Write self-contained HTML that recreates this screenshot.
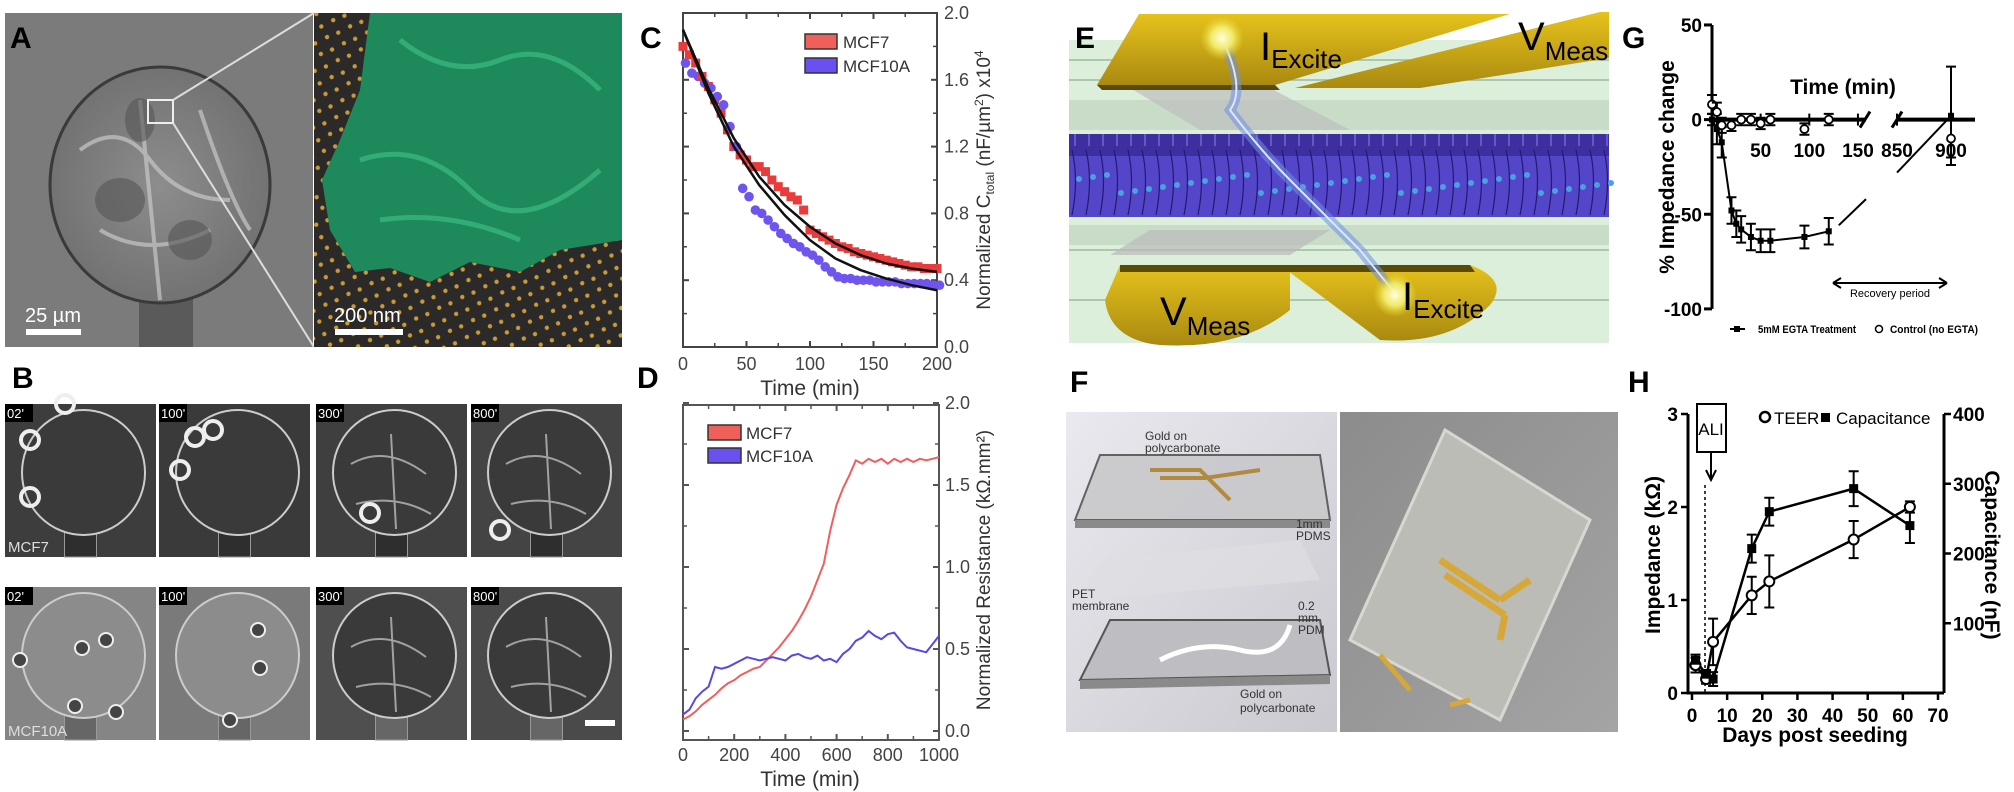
<!DOCTYPE html>
<html><head><meta charset="utf-8">
<style>
html,body{margin:0;padding:0;background:#fff;}
#root{position:relative;width:2014px;height:792px;overflow:hidden;font-family:"Liberation Sans",sans-serif;}
svg text{font-family:"Liberation Sans",sans-serif;}
</style></head>
<body>
<div id="root">
<svg id="svg" width="2014" height="792" viewBox="0 0 2014 792" xmlns="http://www.w3.org/2000/svg">
<defs>
<pattern id="dots" width="18" height="18" patternUnits="userSpaceOnUse" patternTransform="rotate(20)">
<rect width="18" height="18" fill="#2b2a28"/>
<circle cx="5" cy="5" r="2.2" fill="#c89a3a"/><circle cx="14" cy="13" r="2.2" fill="#c89a3a"/>
</pattern>
<radialGradient id="cellg" cx="0.5" cy="0.5" r="0.6"><stop offset="0" stop-color="#8d8d8d"/><stop offset="1" stop-color="#6d6d6d"/></radialGradient>
<linearGradient id="gold" x1="0" y1="0" x2="0" y2="1"><stop offset="0" stop-color="#e6c21c"/><stop offset="1" stop-color="#a98a10"/></linearGradient>
<linearGradient id="fbg" x1="0" y1="0" x2="1" y2="1"><stop offset="0" stop-color="#e9e9ef"/><stop offset="1" stop-color="#c9c9cf"/></linearGradient>
<linearGradient id="pbg" x1="0" y1="0" x2="1" y2="1"><stop offset="0" stop-color="#8c8c8c"/><stop offset="1" stop-color="#a4a4a4"/></linearGradient>
<radialGradient id="glow"><stop offset="0" stop-color="#ffffe0"/><stop offset="0.5" stop-color="#f4f070" stop-opacity="0.9"/><stop offset="1" stop-color="#e8d830" stop-opacity="0"/></radialGradient>
</defs>

<!-- Panel A -->
<g>
<rect x="5" y="13" width="308" height="334" fill="#7b7b7b"/>
<rect x="139" y="290" width="54" height="57" fill="#5a5a5a"/>
<ellipse cx="160" cy="185" rx="110" ry="118" fill="url(#cellg)" stroke="#3a3a3a" stroke-width="3"/>
<path d="M80 150 Q120 120 150 160 T230 200 M100 230 Q150 260 210 230 M140 100 L160 300 M200 110 Q230 200 250 230" stroke="#c8c8c8" stroke-width="4" fill="none" opacity="0.7"/>
<ellipse cx="120" cy="200" rx="25" ry="22" fill="#555" opacity="0.6"/><ellipse cx="190" cy="240" rx="22" ry="20" fill="#555" opacity="0.6"/><ellipse cx="140" cy="120" rx="15" ry="22" fill="#555" opacity="0.6"/>
<rect x="148" y="100" width="25" height="23" fill="none" stroke="#eee" stroke-width="2"/>
<line x1="173" y1="100" x2="314" y2="13" stroke="#ddd" stroke-width="2"/>
<line x1="173" y1="123" x2="314" y2="347" stroke="#ddd" stroke-width="2"/>
<text x="25" y="322" font-size="20" fill="#fff">25 µm</text>
<rect x="26" y="329" width="55" height="6" fill="#fff"/>
<rect x="314" y="13" width="308" height="334" fill="url(#dots)"/>
<path d="M370 13 L622 13 L622 240 L560 250 L520 272 L470 262 L430 282 L390 268 L355 272 L330 230 L322 180 L340 140 L360 90 Z" fill="#1e8a5c"/>
<path d="M400 40 Q450 80 500 60 T600 90 M360 160 Q420 140 470 190 T600 170 M380 220 Q450 210 520 240" stroke="#3fc48a" stroke-width="5" fill="none" opacity="0.6"/>
<text x="334" y="322" font-size="20" fill="#fff">200 nm</text>
<rect x="335" y="329" width="68" height="6" fill="#fff"/>
<text x="10" y="48" font-size="30" font-weight="bold">A</text>
</g>

<!-- Panel B -->
<g id="panelB">
<text x="12" y="388" font-size="30" font-weight="bold">B</text>
</g>

<!-- Panel C -->
<g id="panelC">
<text x="640" y="48" font-size="30" font-weight="bold">C</text>
</g>
<!-- Panel D -->
<g id="panelD">
<text x="637" y="388" font-size="30" font-weight="bold">D</text>
</g>

<!-- Panel E -->
<g>
<rect x="1069" y="40" width="540" height="303" fill="#dcefda"/>
<path d="M1069 60 L1609 60 M1069 80 L1609 80 M1069 235 L1609 235 M1069 250 L1609 250 M1069 300 L1609 300" stroke="#9fb89f" stroke-width="1.5"/>
<rect x="1069" y="100" width="540" height="30" fill="#c8dcc8"/>
<rect x="1069" y="225" width="540" height="20" fill="#c8dcc8"/>
<polygon points="1130,88 1270,88 1350,130 1200,130" fill="#bdbdbd" opacity="0.7"/>
<rect x="1069" y="134" width="540" height="83" fill="#5446c8"/>
<rect x="1069" y="134" width="540" height="22" fill="#3d2fa0"/>
<g id="cellsE"></g>
<polygon points="1110,255 1290,255 1330,230 1150,230" fill="#b9b9b9" opacity="0.7"/>
<polygon points="1139,14 1510,14 1275,85 1097,85" fill="url(#gold)"/>
<polygon points="1097,85 1275,85 1280,90 1102,90" fill="#5a4a08"/>
<polygon points="1295,88 1600,12 1609,12 1609,58 1420,88" fill="url(#gold)"/>
<path d="M1120 265 L1290 265 L1290 310 Q1240 350 1160 345 Q1110 340 1105 300 Z" fill="url(#gold)"/>
<path d="M1280 265 L1470 265 Q1510 280 1490 305 Q1450 345 1380 340 Z" fill="url(#gold)"/>
<path d="M1120 265 L1290 265 L1290 272 L1120 272 Z M1280 265 L1470 265 L1475 272 L1285 272 Z" fill="#5a4a08"/>
<path d="M1225 45 Q1245 90 1230 110 Q1260 150 1290 180 Q1330 220 1360 250 Q1380 275 1395 293" stroke="#6f8fe6" stroke-width="10" fill="none" opacity="0.55"/>
<path d="M1225 45 Q1245 90 1230 110 Q1260 150 1290 180 Q1330 220 1360 250 Q1380 275 1395 293" stroke="#dde6ff" stroke-width="2" fill="none"/>
<circle cx="1222" cy="38" r="22" fill="url(#glow)"/>
<circle cx="1395" cy="295" r="22" fill="url(#glow)"/>
<text x="1260" y="60" font-size="40">I<tspan font-size="26" dy="8">Excite</tspan></text>
<text x="1518" y="50" font-size="40">V<tspan font-size="26" dy="10">Meas</tspan></text>
<text x="1160" y="325" font-size="40">V<tspan font-size="26" dy="10">Meas</tspan></text>
<text x="1402" y="310" font-size="40">I<tspan font-size="26" dy="8">Excite</tspan></text>
<text x="1075" y="48" font-size="30" font-weight="bold">E</text>
</g>

<!-- Panel F -->
<g>
<text x="1070" y="392" font-size="30" font-weight="bold">F</text>
<rect x="1066" y="412" width="271" height="320" fill="url(#fbg)"/>
<polygon points="1100,455 1320,455 1330,520 1075,520" fill="#c9c9cc" stroke="#555" stroke-width="2" opacity="0.9"/>
<polygon points="1075,520 1330,520 1330,528 1075,528" fill="#8a8a8a"/>
<path d="M1150 470 L1200 470 L1230 500 M1160 478 L1205 478 L1260 470" stroke="#b08a40" stroke-width="4" fill="none"/>
<polygon points="1100,560 1300,540 1320,580 1080,600" fill="#dedee3" opacity="0.7"/>
<polygon points="1110,620 1320,620 1330,675 1080,680" fill="#bdbdc2" stroke="#555" stroke-width="2"/>
<polygon points="1080,680 1330,675 1330,684 1080,689" fill="#8a8a8a"/>
<path d="M1160 660 Q1200 640 1240 650 T1290 625" stroke="#fff" stroke-width="5" fill="none"/>
<text x="1145" y="440" font-size="12" fill="#333">Gold on</text><text x="1145" y="452" font-size="12" fill="#333">polycarbonate</text>
<text x="1296" y="528" font-size="12" fill="#333">1mm</text><text x="1296" y="540" font-size="12" fill="#333">PDMS</text>
<text x="1072" y="598" font-size="12" fill="#333">PET</text><text x="1072" y="610" font-size="12" fill="#333">membrane</text>
<text x="1298" y="610" font-size="12" fill="#333">0.2</text><text x="1298" y="622" font-size="12" fill="#333">mm</text><text x="1298" y="634" font-size="12" fill="#333">PDM</text>
<text x="1240" y="698" font-size="12" fill="#333">Gold on</text><text x="1240" y="712" font-size="12" fill="#333">polycarbonate</text>
<rect x="1340" y="412" width="278" height="320" fill="url(#pbg)"/>
<polygon points="1445,430 1590,520 1500,720 1350,640" fill="#bcbcb6" stroke="#d8d8d2" stroke-width="3"/>
<path d="M1440 560 L1500 600 M1445 575 L1505 615 M1500 600 L1530 580 M1505 615 L1500 640" stroke="#d6a83a" stroke-width="7" fill="none"/>
<path d="M1380 655 L1410 690 M1450 705 L1470 700" stroke="#d6a83a" stroke-width="5"/>
</g>

<!-- Panel G -->
<g id="panelG">
<text x="1622" y="48" font-size="30" font-weight="bold">G</text>
</g>
<!-- Panel H -->
<g id="panelH">
<text x="1628" y="392" font-size="30" font-weight="bold">H</text>
</g>
</svg>
</div>
<script>
const NS='http://www.w3.org/2000/svg';
function el(tag, attrs, parent){const e=document.createElementNS(NS,tag);for(const k in attrs)e.setAttribute(k,attrs[k]);parent.appendChild(e);return e;}
function tx(str, attrs, parent){const e=el('text',attrs,parent);e.textContent=str;return e;}

/* ---------- Panel B (images) ---------- */
const bTimes=["02'","100'","300'","800'"];
const bRows=["MCF7","MCF10A"];
(function(){
  const g=document.getElementById('panelB');
  const colX=[5,159,316,471], rowY=[404,587], W=151, H=153;
  const bg=[["#3d3d3d","#3a3a3a","#3f3f3f","#444"],["#858585","#7a7a7a","#4f4f4f","#4a4a4a"]];
  for(let r=0;r<2;r++)for(let c=0;c<4;c++){
    const x=colX[c],y=rowY[r];
    const img=el('rect',{x:x,y:y,width:W,height:H,fill:bg[r][c]},g);
    
    
    el('rect',{x:x+W/2-16,y:y+H-25,width:32,height:25,fill:r?'#666':'#2e2e2e',stroke:'#999','stroke-width':1},g);
    el('ellipse',{cx:x+W/2+3,cy:y+H/2-8,rx:W/2-14,ry:H/2-14,fill:r&&c<2?'#8c8c8c':'#3a3a3a',stroke:'#ccc','stroke-width':2},g);
    if(c>=2){el('path',{d:`M${x+35} ${y+60} Q${x+70} ${y+40} ${x+110} ${y+70} M${x+40} ${y+100} Q${x+80} ${y+90} ${x+115} ${y+110} M${x+75} ${y+30} L${x+80} ${y+125}`,stroke:'#bbb','stroke-width':2,fill:'none',opacity:0.8},g);}
    el('rect',{x:x,y:y,width:28,height:18,fill:'#000'},g);
    const lb=tx(bTimes[c],{x:x+2,y:y+14,'font-size':13,fill:'#fff'},g);
    
    
  }
  const rings=[[30,440],[30,497],[65,404],[195,437],[213,430],[180,470],[370,513],[500,530]];
  rings.forEach(p=>{el('circle',{cx:p[0],cy:p[1],r:9,fill:'none',stroke:'#eee','stroke-width':4},g);});
  const balls=[[20,660],[82,648],[106,640],[75,706],[116,712],[258,630],[260,668],[230,720]];
  balls.forEach(p=>{el('circle',{cx:p[0],cy:p[1],r:7,fill:'#444',stroke:'#eee','stroke-width':2},g);});
  const l1=tx('MCF7',{x:8,y:552,'font-size':15,fill:'#ddd'},g);
  
  
  const l2=tx('MCF10A',{x:8,y:736,'font-size':15,fill:'#ddd'},g);
  
  
  el('rect',{x:585,y:720,width:30,height:6,fill:'#fff'},g);
})();

/* E cells */
(function(){
  const g=document.getElementById('cellsE');
  for(let x=1072;x<1609;x+=14){
    el('path',{d:`M${x} 150 Q${x+7} 180 ${x} 215`,stroke:'#241a70','stroke-width':1.2,fill:'none'},g);
    el('circle',{cx:x+7,cy:175+((x*7)%20),r:3,fill:'#4aa0e0'},g);
    el('line',{x1:x+3,y1:134,x2:x+3,y2:146,stroke:'#8a80f0','stroke-width':1},g);
  }
})();

/* ---------- Panel C data ---------- */
const cTimes=[0,5,10,15,20,25,30,35,40,45,50,55,60,65,70,75,80,85,90,95,100,105,110,115,120,125,130,135,140,145,150,155,160,165,170,175,180,185,190,195,200];
const cMcf7=[1.80,1.75,1.70,1.62,1.56,1.48,1.40,1.30,1.20,1.15,1.12,1.08,1.08,1.05,1.00,0.96,0.93,0.90,0.88,0.82,0.70,0.68,0.66,0.64,0.62,0.60,0.59,0.57,0.56,0.55,0.54,0.53,0.52,0.51,0.50,0.49,0.48,0.48,0.47,0.47,0.47];
const cMcf10a=[1.70,1.64,1.62,1.58,1.55,1.50,1.45,1.32,1.20,0.95,0.90,0.82,0.80,0.76,0.72,0.68,0.65,0.62,0.60,0.57,0.55,0.52,0.48,0.45,0.42,0.41,0.41,0.40,0.40,0.40,0.39,0.39,0.39,0.39,0.38,0.38,0.38,0.38,0.38,0.37,0.37];
const cFitTimes=[0,20,40,60,80,100,120,140,160,180,200];
const cFitMcf7=[1.90,1.55,1.25,1.02,0.85,0.72,0.62,0.55,0.50,0.47,0.45];
const cFitMcf10a=[1.90,1.52,1.20,0.97,0.79,0.64,0.53,0.46,0.41,0.37,0.34];
const cXTicks=[0,50,100,150,200];
const cYTicks=[0.0,0.4,0.8,1.2,1.6,2.0];

/* ---------- Panel D data ---------- */
const dTimes=[0,25,50,75,100,125,150,175,200,225,250,275,300,325,350,375,400,425,450,475,500,525,550,575,600,625,650,675,700,725,750,775,800,825,850,875,900,925,950,975,1000];
const dMcf7=[0.07,0.09,0.12,0.16,0.19,0.22,0.26,0.29,0.31,0.34,0.36,0.38,0.39,0.43,0.47,0.51,0.56,0.61,0.67,0.74,0.82,0.92,1.02,1.22,1.38,1.48,1.56,1.65,1.63,1.66,1.64,1.66,1.63,1.66,1.64,1.66,1.64,1.66,1.65,1.66,1.67];
const dMcf10a=[0.10,0.13,0.20,0.24,0.27,0.39,0.38,0.39,0.41,0.43,0.45,0.44,0.43,0.44,0.45,0.44,0.43,0.46,0.47,0.45,0.44,0.46,0.43,0.44,0.42,0.47,0.50,0.55,0.57,0.61,0.58,0.56,0.59,0.60,0.55,0.51,0.50,0.49,0.48,0.53,0.58];
const dXTicks=[0,200,400,600,800,1000];
const dYTicks=[0.0,0.5,1.0,1.5,2.0];

/* ---------- Panel G data ---------- */
const gEgtaT=[0,5,10,20,25,30,40,50,60,95,120];
const gEgtaV=[0,-5,-12,-48,-55,-58,-62,-64,-64,-62,-59];
const gEgtaE=[3,8,8,7,7,7,7,6,6,6,7];
const gCtrlT=[0,5,10,20,30,40,50,60,95,120,900];
const gCtrlV=[8,4,-3,-3,0,0,-2,0,-5,0,-10];
const gCtrlE=[5,5,4,3,3,3,3,3,3,3,10];
const gLateT=[900];
const gLateV=[2];
const gLateE=[26];
const gXTicksLeft=[50,100,150];
const gXTicksRight=[850,900];
const gYTicks=[50,0,-50,-100];

/* ---------- Panel H data ---------- */
const hDays=[1,4,6,17,22,46,62];
const hTeer=[0.30,0.15,0.55,1.05,1.20,1.65,2.00];
const hTeerErr=[0.08,0.05,0.25,0.20,0.28,0.20,0.06];
const hCap=[47,27,20,207,260,293,240];
const hCapErr=[8,6,10,20,20,25,25];
const hXTicks=[0,10,20,30,40,50,60,70];
const hYTicks=[0,1,2,3];
const hY2Ticks=[100,200,300,400];

/* ---------- Panel C drawing ---------- */
(function(){
  const g=document.getElementById('panelC');
  const x0=683,x1=937,y0=347,y1=13;
  const X=t=>x0+(t/200)*(x1-x0), Y=v=>y0-(v/2)*(y0-y1);
  const f=el('rect',{x:x0,y:y1,width:x1-x0,height:y0-y1,fill:'#fff',stroke:'#444','stroke-width':2},g);
  
  
  cXTicks.forEach(t=>{
    el('line',{x1:X(t),y1:y0,x2:X(t),y2:y0-6,stroke:'#444','stroke-width':2},g);
    el('line',{x1:X(t),y1:y1,x2:X(t),y2:y1+6,stroke:'#444','stroke-width':2},g);
    if(t<200){el('line',{x1:X(t+25),y1:y0,x2:X(t+25),y2:y0-4,stroke:'#444','stroke-width':1.5},g);el('line',{x1:X(t+25),y1:y1,x2:X(t+25),y2:y1+4,stroke:'#444','stroke-width':1.5},g);}
    const l=tx(String(t),{x:X(t),y:370,'font-size':18,fill:'#444','text-anchor':'middle'},g);
    
    
  });
  cYTicks.forEach(v=>{
    el('line',{x1:x1,y1:Y(v),x2:x1-6,y2:Y(v),stroke:'#444','stroke-width':2},g);
    el('line',{x1:x0,y1:Y(v),x2:x0+6,y2:Y(v),stroke:'#444','stroke-width':2},g);
    if(v<2){el('line',{x1:x1,y1:Y(v+0.2),x2:x1-4,y2:Y(v+0.2),stroke:'#444','stroke-width':1.5},g);el('line',{x1:x0,y1:Y(v+0.2),x2:x0+4,y2:Y(v+0.2),stroke:'#444','stroke-width':1.5},g);}
    const l=tx(v.toFixed(1),{x:944,y:Y(v)+6,'font-size':18,fill:'#444'},g);
    
    
  });
  const xt=tx('Time (min)',{x:810,y:395,'font-size':21,fill:'#333','text-anchor':'middle'},g);
  
  
  const yt=el('text',{x:0,y:0,'font-size':19,fill:'#333','text-anchor':'middle',transform:'translate(990,180) rotate(-90)'},g);
  yt.innerHTML='Normalized C<tspan font-size="12" dy="4">total</tspan><tspan dy="-4"> (nF/µm</tspan><tspan font-size="12" dy="-7">2</tspan><tspan dy="7">) x10</tspan><tspan font-size="12" dy="-7">4</tspan>';
  
  
  cTimes.forEach((t,i)=>{
    const s=el('rect',{x:X(t)-4.5,y:Y(cMcf7[i])-4.5,width:9,height:9,fill:'#e83c3c'},g);
    
    
    const c=el('circle',{cx:X(t+2),cy:Y(cMcf10a[i]),r:4.8,fill:'#6f55ee'},g);
    
    
  });
  [[cFitMcf7,'mcf7-fit'],[cFitMcf10a,'mcf10a-fit']].forEach(([arr,nm])=>{
    let d='';
    cFitTimes.forEach((t,i)=>{d+=(i?'L':'M')+X(t)+' '+Y(arr[i]);});
    const p=el('path',{d:d,stroke:'#111','stroke-width':2.5,fill:'none','stroke-linejoin':'round'},g);
    
    
  });
  const lg=el('g',{},g);
  
  
  const e1=el('rect',{x:805,y:34,width:32,height:15,fill:'#f0605a',stroke:'#333','stroke-width':1.5},lg);
  
  
  tx('MCF7',{x:843,y:48,'font-size':17,fill:'#333'},lg);
  const e2=el('rect',{x:805,y:58,width:32,height:15,fill:'#6a50f0',stroke:'#333','stroke-width':1.5},lg);
  
  
  tx('MCF10A',{x:843,y:72,'font-size':17,fill:'#333'},lg);
})();

/* ---------- Panel D drawing ---------- */
(function(){
  const g=document.getElementById('panelD');
  const x0=683,x1=939,yb=740,yt0=405;
  const X=t=>x0+(t/1000)*(x1-x0), Y=v=>731-v*164;
  const f=el('rect',{x:x0,y:yt0,width:x1-x0,height:yb-yt0,fill:'#fff',stroke:'#555','stroke-width':2},g);
  
  
  dXTicks.forEach(t=>{
    el('line',{x1:X(t),y1:yb,x2:X(t),y2:yb-6,stroke:'#555','stroke-width':2},g);
    el('line',{x1:X(t),y1:yt0,x2:X(t),y2:yt0+6,stroke:'#555','stroke-width':2},g);
    if(t<1000){el('line',{x1:X(t+100),y1:yb,x2:X(t+100),y2:yb-4,stroke:'#555','stroke-width':1.5},g);el('line',{x1:X(t+100),y1:yt0,x2:X(t+100),y2:yt0+4,stroke:'#555','stroke-width':1.5},g);}
    const l=tx(String(t),{x:X(t),y:761,'font-size':18,fill:'#444','text-anchor':'middle'},g);
    
    
  });
  dYTicks.forEach(v=>{
    el('line',{x1:x1,y1:Y(v),x2:x1-6,y2:Y(v),stroke:'#555','stroke-width':2},g);
    el('line',{x1:x0,y1:Y(v),x2:x0+6,y2:Y(v),stroke:'#555','stroke-width':2},g);
    if(v<2){el('line',{x1:x1,y1:Y(v+0.25),x2:x1-4,y2:Y(v+0.25),stroke:'#555','stroke-width':1.5},g);el('line',{x1:x0,y1:Y(v+0.25),x2:x0+4,y2:Y(v+0.25),stroke:'#555','stroke-width':1.5},g);}
    const l=tx(v.toFixed(1),{x:945,y:Y(v)+6,'font-size':18,fill:'#444'},g);
    
    
  });
  const xt=tx('Time (min)',{x:810,y:786,'font-size':21,fill:'#333','text-anchor':'middle'},g);
  
  
  const yt=tx('Normalized Resistance (kΩ.mm²)',{x:0,y:0,'font-size':19,fill:'#333','text-anchor':'middle',transform:'translate(990,570) rotate(-90)'},g);
  
  
  [[dMcf7,'#ee6060','mcf7-line'],[dMcf10a,'#5a48e0','mcf10a-line']].forEach(([arr,col,nm])=>{
    let d='';
    dTimes.forEach((t,i)=>{d+=(i?'L':'M')+X(t).toFixed(1)+' '+Y(arr[i]).toFixed(1);});
    const p=el('path',{d:d,stroke:col,'stroke-width':2,fill:'none'},g);
    
    
  });
  const e1=el('rect',{x:708,y:425,width:33,height:15,fill:'#f0605a',stroke:'#333','stroke-width':1.5},g);
  
  
  tx('MCF7',{x:746,y:439,'font-size':17,fill:'#333'},g);
  const e2=el('rect',{x:708,y:448,width:33,height:15,fill:'#6a50f0',stroke:'#333','stroke-width':1.5},g);
  
  
  tx('MCF10A',{x:746,y:462,'font-size':17,fill:'#333'},g);
})();

/* ---------- Panel G drawing ---------- */
(function(){
  const g=document.getElementById('panelG');
  const ax=1712;
  const Y=v=>119.6-v*1.893;
  const X=t=>t<=200?ax+t*0.973:1897+(t-850)*1.08;
  const ya=el('line',{x1:ax,y1:Y(50),x2:ax,y2:Y(-100),stroke:'#000','stroke-width':3},g);
  
  
  gYTicks.forEach(v=>{
    el('line',{x1:ax-8,y1:Y(v),x2:ax,y2:Y(v),stroke:'#000','stroke-width':3},g);
    const l=tx(String(v),{x:ax-10,y:Y(v)+7,'font-size':19,'font-weight':'bold','text-anchor':'end'},g);
    
    
  });
  const xa=el('path',{d:`M${ax} ${Y(0)} L1866 ${Y(0)} M1897 ${Y(0)} L1975 ${Y(0)}`,stroke:'#000','stroke-width':4},g);
  
  
  el('path',{d:`M1860 ${Y(0)+8} L1870 ${Y(0)-8} M1892 ${Y(0)+8} L1902 ${Y(0)-8}`,stroke:'#000','stroke-width':3},g);
  gXTicksLeft.concat(gXTicksRight).forEach(t=>{
    el('line',{x1:X(t),y1:Y(0)-6,x2:X(t),y2:Y(0)+6,stroke:'#000','stroke-width':2},g);
    const l=tx(String(t),{x:X(t),y:157,'font-size':19,'font-weight':'bold','text-anchor':'middle'},g);
    
    
  });
  const xt=tx('Time (min)',{x:1843,y:94,'font-size':21,'font-weight':'bold','text-anchor':'middle'},g);
  
  
  const yt=tx('% Impedance change',{x:0,y:0,'font-size':21,'font-weight':'bold','text-anchor':'middle',transform:'translate(1674,167) rotate(-90)'},g);
  
  
  let d='';
  gEgtaT.forEach((t,i)=>{d+=(i?'L':'M')+X(t)+' '+Y(gEgtaV[i]);});
  const pl=el('path',{d:d,stroke:'#000','stroke-width':2,fill:'none'},g);
  
  
  el('line',{x1:X(gEgtaT[gEgtaT.length-1])+10,y1:Y(gEgtaV[gEgtaV.length-1])-6,x2:1866,y2:Y(-42),stroke:'#000','stroke-width':2},g);
  el('line',{x1:1897,y1:Y(-28),x2:X(gLateT[0]),y2:Y(gLateV[0]),stroke:'#000','stroke-width':2},g);
  const eb=(x,v,e)=>{el('path',{d:`M${x} ${Y(v+e)} L${x} ${Y(v-e)} M${x-5} ${Y(v+e)} L${x+5} ${Y(v+e)} M${x-5} ${Y(v-e)} L${x+5} ${Y(v-e)}`,stroke:'#000','stroke-width':2},g);};
  gEgtaT.forEach((t,i)=>{
    eb(X(t),gEgtaV[i],gEgtaE[i]);
    const m=el('rect',{x:X(t)-3,y:Y(gEgtaV[i])-3,width:6,height:6,fill:'#000'},g);
    
    
  });
  gLateT.forEach((t,i)=>{
    eb(X(t),gLateV[i],gLateE[i]);
    const m=el('rect',{x:X(t)-3,y:Y(gLateV[i])-3,width:6,height:6,fill:'#000'},g);
    
    
  });
  gCtrlT.forEach((t,i)=>{
    eb(X(t),gCtrlV[i],gCtrlE[i]);
    const m=el('circle',{cx:X(t),cy:Y(gCtrlV[i]),r:4,fill:'#fff',stroke:'#000','stroke-width':1.8},g);
    
    
  });
  const ar=el('path',{d:'M1833 283 L1947 283 M1833 283 l8 -5 M1833 283 l8 5 M1947 283 l-8 -5 M1947 283 l-8 5',stroke:'#000','stroke-width':2,fill:'none'},g);
  
  
  tx('Recovery period',{x:1890,y:297,'font-size':11,'text-anchor':'middle'},g);
  const l1=el('g',{},g);
  
  
  el('line',{x1:1730,y1:329,x2:1745,y2:329,stroke:'#000','stroke-width':2},l1);
  el('rect',{x:1734,y:326,width:6,height:6,fill:'#000'},l1);
  tx('5mM EGTA Treatment',{x:1758,y:333,'font-size':11,'font-weight':'bold',textLength:98,lengthAdjust:'spacingAndGlyphs'},l1);
  const l2=el('g',{},g);
  
  
  el('circle',{cx:1879,cy:329,r:3.5,fill:'#fff',stroke:'#000','stroke-width':1.5},l2);
  tx('Control (no EGTA)',{x:1890,y:333,'font-size':11,'font-weight':'bold',textLength:88,lengthAdjust:'spacingAndGlyphs'},l2);
})();

/* ---------- Panel H drawing ---------- */
(function(){
  const g=document.getElementById('panelH');
  const axL=1688, axR=1944, y0=693, yTop=414;
  const X=d=>1692+d*(1938-1692)/70;
  const Y=v=>y0-v*(y0-yTop)/3;
  const Y2=v=>y0-v*(y0-yTop)/400;
  const a=el('path',{d:`M${axL} ${yTop} L${axL} ${y0} L${axR} ${y0} M${axR} ${y0} L${axR} ${yTop}`,stroke:'#000','stroke-width':3,fill:'none'},g);
  
  
  hXTicks.forEach(t=>{
    el('line',{x1:X(t),y1:y0,x2:X(t),y2:y0+7,stroke:'#000','stroke-width':2.5},g);
    const l=tx(String(t),{x:X(t),y:722,'font-size':19,'font-weight':'bold','text-anchor':'middle'},g);
    
    
  });
  hYTicks.forEach(v=>{
    el('line',{x1:axL-7,y1:Y(v),x2:axL,y2:Y(v),stroke:'#000','stroke-width':2.5},g);
    const l=tx(String(v),{x:axL-10,y:Y(v)+7,'font-size':19,'font-weight':'bold','text-anchor':'end'},g);
    
    
  });
  hY2Ticks.forEach(v=>{
    el('line',{x1:axR,y1:Y2(v),x2:axR+7,y2:Y2(v),stroke:'#000','stroke-width':2.5},g);
    const l=tx(String(v),{x:axR+9,y:Y2(v)+7,'font-size':19,'font-weight':'bold'},g);
    
    
  });
  const xt=tx('Days post seeding',{x:1815,y:742,'font-size':21,'font-weight':'bold','text-anchor':'middle'},g);
  
  
  const yt=tx('Impedance (kΩ)',{x:0,y:0,'font-size':21,'font-weight':'bold','text-anchor':'middle',transform:'translate(1660,555) rotate(-90)'},g);
  
  
  const yt2=tx('Capacitance (nF)',{x:0,y:0,'font-size':21,'font-weight':'bold','text-anchor':'middle',transform:'translate(1985,555) rotate(90)'},g);
  
  
  const ali=el('rect',{x:1697,y:404,width:29,height:48,fill:'#fff',stroke:'#000','stroke-width':2},g);
  
  
  tx('ALI',{x:1711,y:435,'font-size':17,'text-anchor':'middle'},g);
  el('path',{d:'M1711 452 L1711 478 M1706 470 L1711 480 L1716 470',stroke:'#000','stroke-width':2,fill:'none'},g);
  el('line',{x1:1705,y1:485,x2:1705,y2:y0,stroke:'#000','stroke-width':1.5,'stroke-dasharray':'3,3'},g);
  const eb=(x,y1,y2)=>{el('path',{d:`M${x} ${y1} L${x} ${y2} M${x-5} ${y1} L${x+5} ${y1} M${x-5} ${y2} L${x+5} ${y2}`,stroke:'#000','stroke-width':2},g);};
  let d1='',d2='';
  hDays.forEach((t,i)=>{d1+=(i?'L':'M')+X(t)+' '+Y(hTeer[i]);d2+=(i?'L':'M')+X(t)+' '+Y2(hCap[i]);});
  const p1=el('path',{d:d1,stroke:'#000','stroke-width':2.5,fill:'none'},g);
  
  
  const p2=el('path',{d:d2,stroke:'#000','stroke-width':2.5,fill:'none'},g);
  
  
  hDays.forEach((t,i)=>{
    eb(X(t),Y(hTeer[i]+hTeerErr[i]),Y(hTeer[i]-hTeerErr[i]));
    eb(X(t),Y2(hCap[i]+hCapErr[i]),Y2(hCap[i]-hCapErr[i]));
    const m=el('circle',{cx:X(t),cy:Y(hTeer[i]),r:5,fill:'#fff',stroke:'#000','stroke-width':2},g);
    
    
    const c=el('rect',{x:X(t)-4.5,y:Y2(hCap[i])-4.5,width:9,height:9,fill:'#000'},g);
    
    
  });
  const l1=el('g',{},g);
  
  
  el('circle',{cx:1765,cy:417,r:5,fill:'#fff',stroke:'#000','stroke-width':2.5},l1);
  tx('TEER',{x:1774,y:424,'font-size':17},l1);
  const l2=el('g',{},g);
  
  
  el('rect',{x:1821,y:413,width:9,height:9,fill:'#000'},l2);
  tx('Capacitance',{x:1836,y:424,'font-size':17},l2);
})();
</script>
</body></html>
